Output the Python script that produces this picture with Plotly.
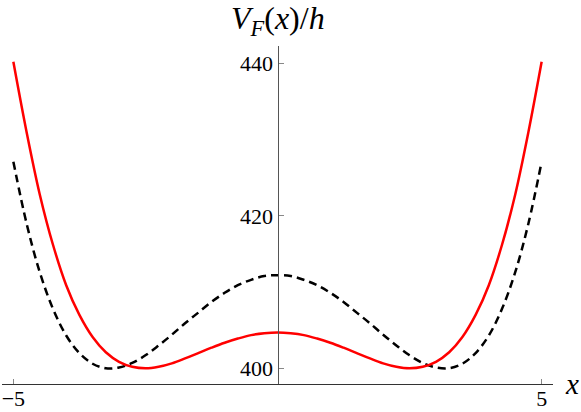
import plotly.graph_objects as go

# x grid and curve values
x_vals = [-5.0, -4.75, -4.5, -4.25, -4.0, -3.75, -3.5, -3.25, -3.0, -2.75, -2.5,
          -2.25, -2.0, -1.75, -1.5, -1.25, -1.0, -0.75, -0.5, -0.25, 0.0,
          0.25, 0.5, 0.75, 1.0, 1.25, 1.5, 1.75, 2.0, 2.25, 2.5,
          2.75, 3.0, 3.25, 3.5, 3.75, 4.0, 4.25, 4.5, 4.75, 5.0]
v_red = [440.2, 431.0, 422.8, 416.2, 410.9, 407.0, 404.1, 402.1, 400.85, 400.2, 400.0,
         400.2, 400.65, 401.3, 402.0, 402.7, 403.35, 403.9, 404.35, 404.6, 404.7,
         404.6, 404.35, 403.9, 403.35, 402.7, 402.0, 401.3, 400.65, 400.2, 400.0,
         400.2, 400.85, 402.1, 404.1, 407.0, 410.9, 416.2, 422.8, 431.0, 440.2]
v_black = [427.1, 419.0, 412.6, 407.8, 404.3, 402.0, 400.6, 400.0, 400.1, 400.7, 401.7,
           403.0, 404.4, 405.9, 407.3, 408.7, 409.9, 410.9, 411.6, 412.1, 412.2,
           412.1, 411.6, 410.9, 409.9, 408.7, 407.3, 405.9, 404.4, 403.0, 401.7,
           400.7, 400.1, 400.0, 400.6, 402.0, 404.3, 407.8, 412.6, 419.0, 427.1]

x_ticks = [-5, 5]
x_ticklabels = ["\u22125", "5"]
y_ticks = [400, 420, 440]

serif = "Liberation Serif"

fig = go.Figure()
fig.add_trace(go.Scatter(x=x_vals, y=v_black, mode="lines", line_shape="spline",
                         line=dict(color="black", width=2.5, dash="8px,5px")))
fig.add_trace(go.Scatter(x=x_vals, y=v_red, mode="lines", line_shape="spline",
                         line=dict(color="#ff0000", width=2.5)))

fig.update_layout(
    {
        "width": 581,
        "height": 412,
        "margin": {"l": 2, "t": 46, "b": 28, "r": 28},
        "showlegend": False,
        "plot_bgcolor": "white",
        "paper_bgcolor": "white",
        "font": {"family": serif, "size": 22, "color": "black"},
    }
)
fig.update_xaxes(
    range=[-5.215, 5.215], showgrid=False, zeroline=False, automargin=False,
    showline=True, linecolor="#333", linewidth=1,
    ticks="inside", ticklen=5, tickcolor="#888", tickwidth=1,
    tickvals=x_ticks, ticktext=x_ticklabels, ticklabelstandoff=-5,
)
fig.update_yaxes(
    range=[397.94, 442.27], showgrid=False, zeroline=False, automargin=False,
    anchor="free", position=0.5,
    showline=True, linecolor="#555", linewidth=1,
    ticks="inside", ticklen=5, tickcolor="#888", tickwidth=1,
    tickvals=y_ticks,
)
fig.add_annotation(
    text="<i>V</i><sub><i>F</i></sub>(<i>x</i>)/<i>h</i>",
    xref="paper", yref="paper", x=0.5, y=1.075, xanchor="center", yanchor="middle",
    showarrow=False, font=dict(family=serif, size=32, color="black"),
)
fig.add_annotation(
    text="<i>x</i>",
    xref="paper", yref="paper", x=1.0345, y=0.0, xanchor="center", yanchor="middle",
    showarrow=False, font=dict(family=serif, size=29, color="black"),
)

# page has a default 8px body margin; drop it so the figure sits at the corner
fig.write_html("out.html", config={"displayModeBar": False},
               post_script="document.body.style.margin='0';")
